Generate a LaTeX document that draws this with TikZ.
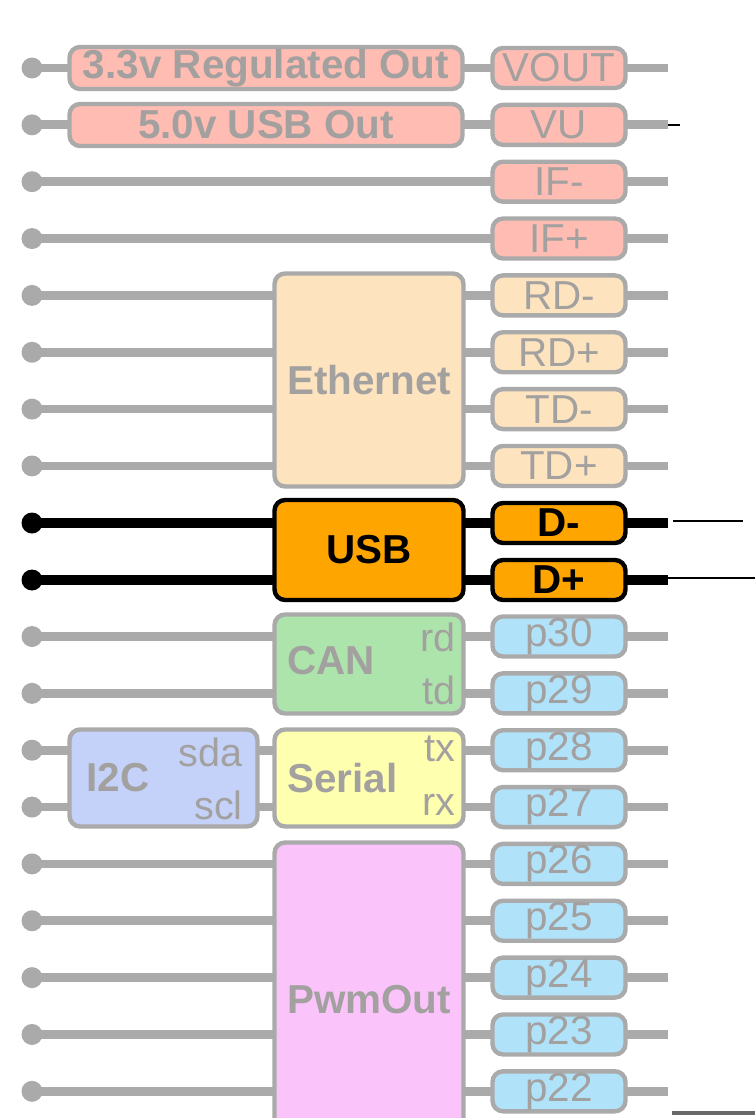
\documentclass[tikz,border=0pt]{standalone}
\usepackage{fontspec}
\setmainfont{Liberation Sans}
\usetikzlibrary{positioning,backgrounds}
\definecolor{pwr}{RGB}{255,188,178}
\definecolor{eth}{RGB}{253,228,190}
\definecolor{usb}{RGB}{255,165,0}
\definecolor{can}{RGB}{172,228,172}
\definecolor{ser}{RGB}{255,255,176}
\definecolor{itc}{RGB}{196,210,250}
\definecolor{pwm}{RGB}{250,196,250}
\definecolor{gpio}{RGB}{176,226,250}
\definecolor{faded}{RGB}{170,170,170}
\definecolor{fadedtxt}{RGB}{163,160,160}
\definecolor{edge}{RGB}{105,105,105}

\begin{document}
\begin{tikzpicture}[x=0.02cm,y=-0.02cm,
  fnbox/.style={draw=faded,line width=2.5pt,rounded corners=6pt,text=fadedtxt,inner sep=0pt,
    font=\fontsize{23}{26}\selectfont\bfseries},
  pinbox/.style={fnbox,font=\fontsize{23}{26}\selectfont,minimum width=2.66cm,minimum height=0.8cm},
  usbpin/.style={pinbox,fill=usb,draw=black,text=black,font=\fontsize{23}{26}\selectfont\bfseries},
  fnname/.style={text=fadedtxt,inner sep=0pt,anchor=west,font=\fontsize{23}{26}\selectfont\bfseries},
  tag/.style={text=fadedtxt,inner sep=0pt,anchor=east,font=\fontsize{22.5}{25}\selectfont},
  pindot/.style={circle,fill=faded,inner sep=0pt,minimum size=0.42cm},
  livedot/.style={pindot,fill=black},
  wire/.style={faded,line width=5pt},
  livewire/.style={black,line width=6pt}]
  \useasboundingbox (0,0) rectangle (755,1118);

  % faded pins, one per row
  \foreach \r/\pinname/\col in {1/VOUT/pwr,2/VU/pwr,3/IF-/pwr,4/IF+/pwr,5/RD-/eth,6/RD+/eth,7/TD-/eth,8/TD+/eth,
      11/p30/gpio,12/p29/gpio,13/p28/gpio,14/p27/gpio,15/p26/gpio,16/p25/gpio,17/p24/gpio,18/p23/gpio,19/p22/gpio}{
    \pgfmathsetmacro\yy{68+(\r-1)*56.85}
    \node[pindot] (dot\r) at (32,\yy) {};
    \node[pinbox,fill=\col] (pin\r) at (559,\yy) {\pinname};
    \coordinate (end\r) at (668,\yy);
    \begin{pgfonlayer}{background}
      \draw[wire] (dot\r.center) -- (end\r);
    \end{pgfonlayer}
  }

  % the USB pins
  \node[livedot] (dot9) at (32,523) {};
  \node[usbpin] (pin9) at (559,523) {D-};
  \coordinate (end9) at (668,523);
  \node[livedot] (dot10) at (32,580) {};
  \node[usbpin] (pin10) at (559,580) {D+};
  \coordinate (end10) at (668,580);
  \begin{pgfonlayer}{background}
    \draw[livewire] (dot9.center) -- (end9);
    \draw[livewire] (dot10.center) -- (end10);
  \end{pgfonlayer}

  % interfaces
  \node[fnbox,fill=pwr,minimum width=7.86cm,minimum height=0.84cm] (reg33) at (266,68) {3.3v Regulated Out};
  \node[fnbox,fill=pwr,minimum width=7.86cm,minimum height=0.84cm] (usb50) at (266,125) {5.0v USB Out};
  \node[fnbox,fill=eth,minimum width=3.78cm,minimum height=4.26cm] (eth) at (369,380) {Ethernet};
  \node[fnbox,fill=usb,draw=black,text=black,minimum width=3.78cm,minimum height=2.0cm] (usb) at (369,550) {USB};
  \node[fnbox,fill=can,minimum width=3.78cm,minimum height=1.98cm] (can) at (369,664) {};
  \node[fnbox,fill=ser,minimum width=3.78cm,minimum height=1.94cm] (serial) at (369,778) {};
  \node[fnbox,fill=itc,minimum width=3.76cm,minimum height=1.94cm] (i2c) at (163.5,778) {};
  \node[fnbox,fill=pwm,minimum width=3.78cm,minimum height=6.3cm] (pwm) at (369,1000) {PwmOut};

  \node[fnname] (canname) at (287,661) {CAN};
  \node[fnname] (sername) at (287,778) {Serial};
  \node[fnname] (i2cname) at (86,778) {I2C};
  \node[tag] (rd) at (456,637) {rd};
  \node[tag] (td) at (456,690) {td};
  \node[tag] (tx) at (456,749) {tx};
  \node[tag] (rx) at (456,805) {rx};
  \node[tag] (sda) at (243,752) {sda};
  \node[tag] (scl) at (243,805) {scl};

  % stray marks at the right edge
  \coordinate (vua) at (668,125); \coordinate (vub) at (680,125);
  \coordinate (dma) at (673,521); \coordinate (dmb) at (743,521);
  \coordinate (dpa) at (668,578); \coordinate (dpb) at (755,578);
  \coordinate (bta) at (672,1113); \coordinate (btb) at (755,1113);
  \draw[black,line width=1.7pt] (vua) -- (vub);
  \draw[black,line width=1.7pt] (dma) -- (dmb);
  \draw[black,line width=1.7pt] (dpa) -- (dpb);
  \draw[edge,line width=2pt] (bta) -- (btb);
\end{tikzpicture}
\end{document}
